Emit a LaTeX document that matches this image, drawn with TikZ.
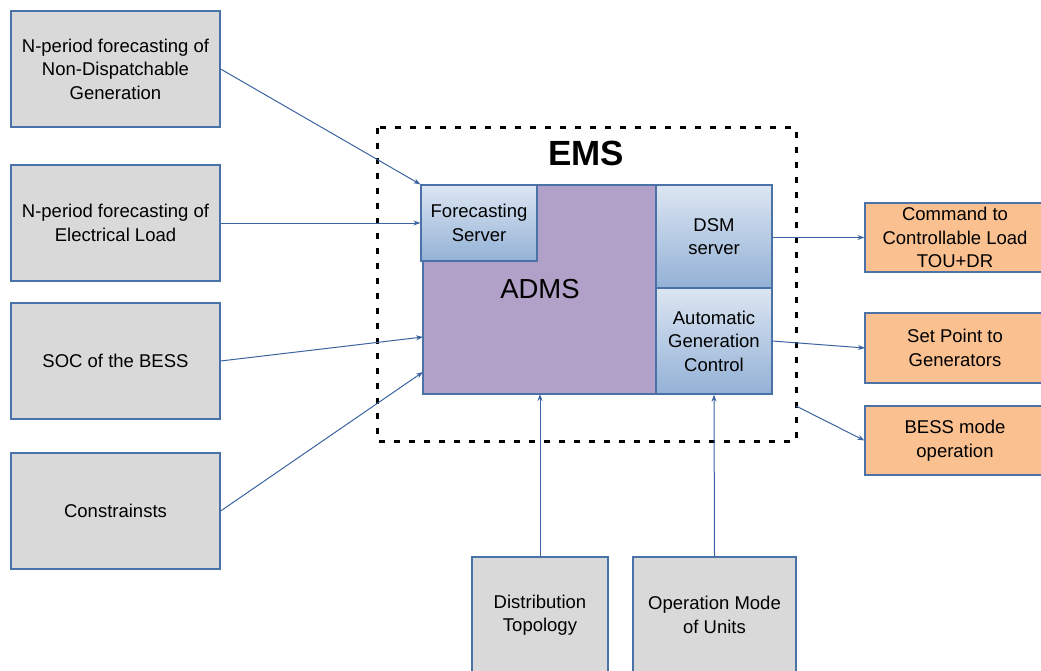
\documentclass[tikz,border=0pt]{standalone}
\usepackage{fontspec}
\setmainfont{Liberation Sans}
\usetikzlibrary{arrows.meta,calc}
\definecolor{grayfill}{HTML}{D9D9D9}
\definecolor{boxedge}{HTML}{4A72A6}
\definecolor{arrowc}{HTML}{3C64A0}
\definecolor{admsfill}{HTML}{B1A0C7}
\definecolor{bluetop}{HTML}{DCE6F2}
\definecolor{bluebot}{HTML}{93B1D6}
\definecolor{orangefill}{HTML}{FAC090}
\begin{document}
\begin{tikzpicture}[x=1pt,y=-1pt,
  txt/.style={font=\fontsize{18.5}{23.5}\selectfont, align=center, inner sep=0pt},
  inbox/.style={txt, draw=boxedge, line width=1.2pt, fill=grayfill, minimum width=209pt, minimum height=116pt},
  outbox/.style={txt, draw=boxedge, line width=1.2pt, fill=orangefill, minimum width=180pt, minimum height=69pt},
  srv/.style={txt, draw=boxedge, line width=1.2pt, top color=bluetop, bottom color=bluebot},
  conn/.style={draw=arrowc, line width=1pt, -{Stealth[length=7pt,width=5pt]}}
]
\useasboundingbox (0,0) rectangle (1041,671);
\clip (0,0) rectangle (1041,671);
\fill[white] (0,0) rectangle (1041,671);

% EMS dashed frame
\draw[line width=3pt, dash pattern=on 6pt off 9pt] (377,128) rectangle (796,441);
\node[font=\fontsize{35}{40}\selectfont\bfseries, inner sep=0pt] (ems) at (586,153) {EMS};

% ADMS and servers
\node[txt, draw=boxedge, line width=1.2pt, fill=admsfill, minimum width=234pt, minimum height=209pt,
      font=\fontsize{27.5}{30}\selectfont] (adms) at (540,289.5) {ADMS};
\node[srv, minimum width=116pt, minimum height=76pt] (fs) at (479,223) {Forecasting\\Server};
\node[srv, minimum width=116pt, minimum height=103pt] (dsm) at (714,236.5) {DSM\\server};
\node[srv, minimum width=116pt, minimum height=106pt] (agc) at (714,341) {Automatic\\Generation\\Control};

% input boxes
\node[inbox] (ndg) at (115.5,69) {N-period forecasting of\\Non-Dispatchable\\Generation};
\node[inbox] (load) at (115.5,223) {N-period forecasting of\\Electrical Load};
\node[inbox] (soc) at (115.5,361) {SOC of the BESS};
\node[inbox] (cons) at (115.5,511) {Constrainsts};
\node[inbox, minimum width=136pt] (topo) at (540,615) {Distribution\\Topology};
\node[inbox, minimum width=163pt] (opm) at (714.5,615) {Operation Mode\\of Units};

% output boxes
\node[outbox] (cmd) at (955,237.5) {Command to\\Controllable Load\\TOU+DR};
\node[outbox, minimum height=70pt] (setp) at (955,348) {Set Point to\\Generators};
\node[outbox] (bess) at (955,440.5) {BESS mode\\operation};

% connection points
\coordinate (socin) at (423,337);
\coordinate (consin) at (423,372);
\coordinate (topoin) at (540,394);
\coordinate (agcout) at (772,341);
\coordinate (setin) at (865,348);
\coordinate (emsout) at (796,406);

% connectors
\draw[conn] (ndg.east) -- (fs.north west);
\draw[conn] (load.east) -- (fs.west);
\draw[conn] (soc.east) -- (socin);
\draw[conn] (cons.east) -- (consin);
\draw[conn] (topo.north) -- (topoin);
\draw[conn] (opm.north) -- (agc.south);
\draw[conn] (dsm.east |- cmd.west) -- (cmd.west);
\draw[conn] (agcout) -- (setin);
\draw[conn] (emsout) -- (bess.west);
\end{tikzpicture}
\end{document}
